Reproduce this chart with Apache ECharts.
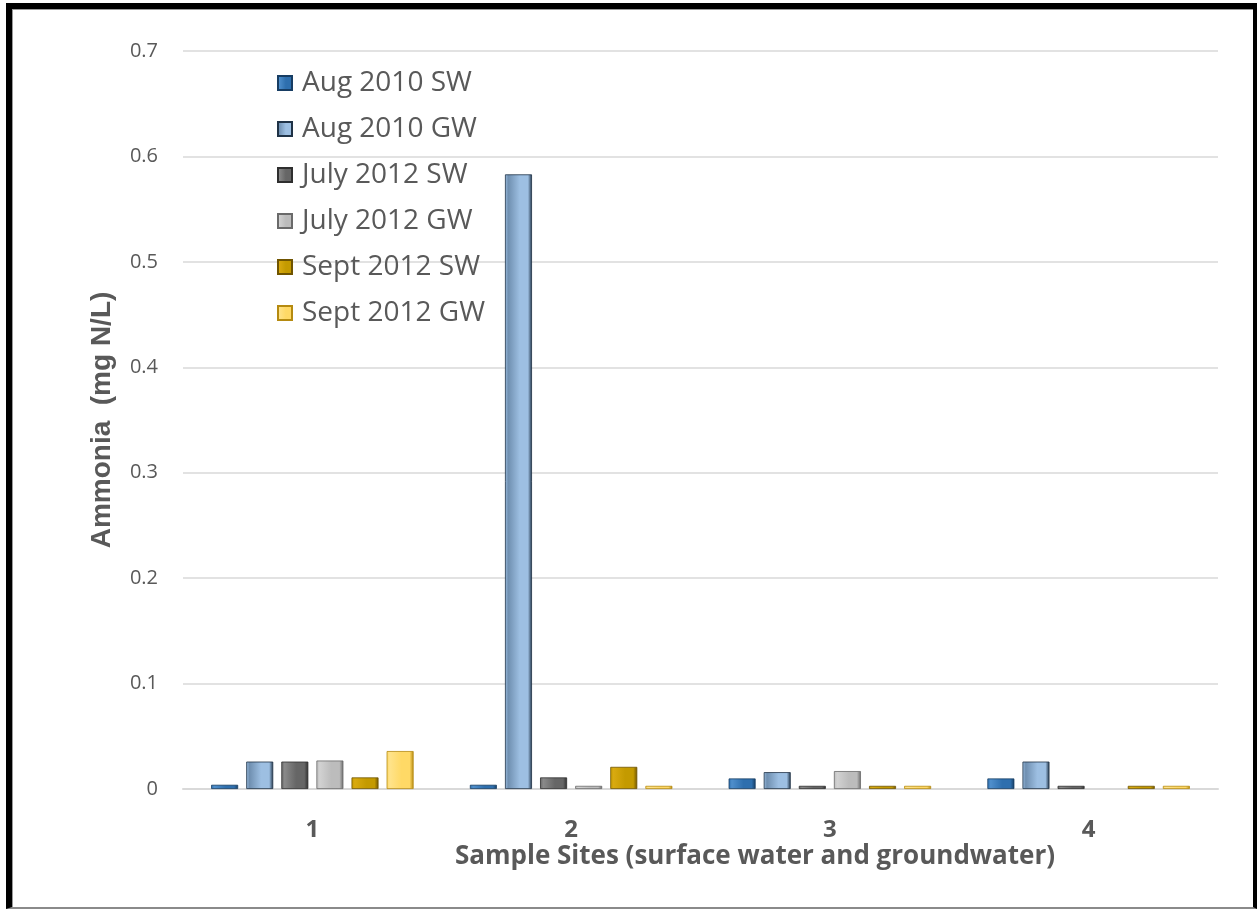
<!DOCTYPE html>
<html>
<head>
<meta charset="utf-8">
<script src="https://cdn.jsdelivr.net/npm/echarts@6/dist/echarts.min.js"></script>
<style>
  html, body { margin: 0; padding: 0; background: #ffffff; }
  #chart { position: absolute; left: 0; top: 0; width: 1257px; height: 909px; }
  #frame {
    position: absolute; left: 6px; top: 3px; right: 0; bottom: 0;
    border-left: 6px solid #000; border-top: 6px solid #000;
    border-right: 4px solid #000; border-bottom: 2px solid #8a8a8a;
    box-sizing: border-box; pointer-events: none;
  }
  #frame::after {
    content: ""; position: absolute; left: 0; top: 0; right: 0; bottom: 0;
    border-left: 1px solid #9a9a9a; border-top: 1px solid #9a9a9a;
  }
</style>
</head>
<body>
<div id="chart"></div>
<div id="frame"></div>
<script>
// Sample sites along the x axis
const sites = ['1', '2', '3', '4'];

// Ammonia concentrations (mg N/L) per sampling campaign; null = no sample
const aug2010SW  = [0.004, 0.004, 0.010, 0.010];
const aug2010GW  = [0.026, 0.583, 0.016, 0.026];
const july2012SW = [0.026, 0.011, 0.003, 0.003];
const july2012GW = [0.027, 0.003, 0.017, null];
const sept2012SW = [0.011, 0.021, 0.003, 0.003];
const sept2012GW = [0.036, 0.003, 0.003, 0.003];

const seriesNames = ['Aug 2010 SW', 'Aug 2010 GW', 'July 2012 SW', 'July 2012 GW', 'Sept 2012 SW', 'Sept 2012 GW'];
const seriesData = [aug2010SW, aug2010GW, july2012SW, july2012GW, sept2012SW, sept2012GW];

// bevelled look: light left face, base centre, dark right face
const palette = [
  ['#4f8fcc', '#2e6fae', '#173d63'],
  ['#6f8fb0', '#9dbfe2', '#1f3246'],
  ['#8a8a8a', '#666666', '#2e2e2e'],
  ['#d2d2d2', '#bcbcbc', '#6a6a6a'],
  ['#d9aa10', '#c49a00', '#6f5400'],
  ['#ffe38a', '#ffd966', '#b58a10']
];

function bevel(c) {
  return new echarts.graphic.LinearGradient(0, 0, 1, 0, [
    { offset: 0, color: c[1] },
    { offset: 0.12, color: c[0] },
    { offset: 0.55, color: c[1] },
    { offset: 0.85, color: c[1] },
    { offset: 1, color: c[2] }
  ]);
}

const chart = echarts.init(document.getElementById('chart'), null, { renderer: 'canvas' });

const option = {
  backgroundColor: 'transparent',
  animation: false,
  grid: { left: 183, right: 39, top: 51, bottom: 120, containLabel: false },
  legend: {
    orient: 'vertical',
    left: 272,
    top: 63,
    itemWidth: 14,
    itemHeight: 14,
    itemGap: 16,
    icon: 'rect',
    textStyle: { fontFamily: 'Open Sans', fontSize: 28, color: '#595959', lineHeight: 30, padding: [0, 0, 0, 5] },
    data: seriesNames
  },
  xAxis: {
    type: 'category',
    data: sites,
    axisLine: { lineStyle: { color: '#d9d9d9', width: 2 } },
    axisTick: { show: false },
    axisLabel: { margin: 29, fontFamily: 'Open Sans', fontWeight: 'bold', fontSize: 24, color: '#595959' }
  },
  yAxis: {
    type: 'value',
    min: 0,
    max: 0.7,
    interval: 0.1,
    axisLine: { show: false },
    axisTick: { show: false },
    splitLine: { lineStyle: { color: '#d9d9d9', width: 1.5 } },
    axisLabel: { margin: 25, fontFamily: 'Open Sans', fontSize: 20, color: '#595959' }
  },
  graphic: [
    {
      type: 'text', x: 755, y: 857,
      style: {
        text: 'Sample Sites (surface water and groundwater)',
        align: 'center', verticalAlign: 'middle',
        font: 'bold 26px "Open Sans"', fill: '#595959'
      }
    },
    {
      type: 'text', x: 102, y: 420, rotation: Math.PI / 2,
      style: {
        text: 'Ammonia  (mg N/L)', x: 0, y: 0,
        align: 'center', verticalAlign: 'middle',
        font: 'bold 28px "Liberation Sans"', fill: '#595959'
      }
    }
  ],
  series: seriesNames.map((name, i) => ({
    name: name,
    type: 'bar',
    data: seriesData[i],
    barWidth: 27,
    barGap: '30%',
    itemStyle: { color: bevel(palette[i]), borderColor: palette[i][2], borderWidth: 0.8 }
  }))
};

chart.setOption(option);
</script>
</body>
</html>
